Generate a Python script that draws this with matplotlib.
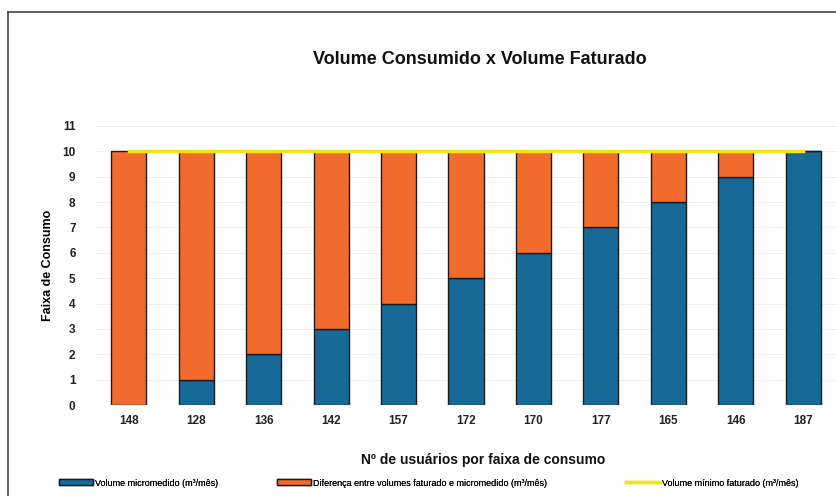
import matplotlib
matplotlib.use('Agg')
import matplotlib.pyplot as plt
import numpy as np

plt.rcParams['font.family'] = ['Liberation Sans', 'DejaVu Sans']

# data
usuarios = ['148', '128', '136', '142', '157', '172', '170', '177', '165', '146', '187']
micromedido = [0, 1, 2, 3, 4, 5, 6, 7, 8, 9, 10]
diferenca = [10, 9, 8, 7, 6, 5, 4, 3, 2, 1, 0]
minimo = [10, 10, 10, 10, 10, 10, 10, 10, 10, 10, 10]

blue = '#176a98'
orange = '#f36b2c'
yellow = '#f4e41c'

fig = plt.figure(figsize=(8.37, 4.96), dpi=100)
ax = fig.add_axes([95 / 837, 1 - 405 / 496, 742 / 837, (405 - 126) / 496])

x = np.arange(len(usuarios))
w = 0.52
b1 = ax.bar(x, micromedido, w, color=blue, edgecolor='#1a1a1a', linewidth=1.0,
            label='Volume micromedido (m³/mês)', zorder=2)
b2 = ax.bar(x, diferenca, w, bottom=micromedido, color=orange, edgecolor='#1a1a1a',
            linewidth=1.0, label='Diferença entre volumes faturado e micromedido (m³/mês)', zorder=2)
l1, = ax.plot(x, minimo, color=yellow, lw=2.5, label='Volume mínimo faturado (m³/mês)', zorder=3)

ax.set_xlim(-0.5, 10.5)
ax.set_ylim(0, 11)
ax.set_yticks(range(0, 12))
ax.set_xticks(x)
ax.set_xticklabels(usuarios)
ax.tick_params(axis='both', length=0, labelsize=8.5, colors='#222222')
ax.tick_params(axis='y', pad=14)
ax.tick_params(axis='x', pad=7)
for t in ax.get_xticklabels() + ax.get_yticklabels():
    t.set_fontweight('bold')
ax.yaxis.grid(True, color='#eeeeee', lw=0.6, zorder=0)
for s in ax.spines.values():
    s.set_visible(False)

ax.set_ylabel('Faixa de Consumo', fontsize=9, fontweight='bold', labelpad=6)
fig.text(480 / 837, 1 - 60 / 496, 'Volume Consumido x Volume Faturado', ha='center', va='center',
         fontsize=13, fontweight='bold', color='#111111')
fig.text(483 / 837, 1 - 460 / 496, 'Nº de usuários por faixa de consumo', ha='center', va='center',
         fontsize=10, fontweight='bold', color='#111111')

# legend entries placed separately, like the original
for h, xs in [(b1, 59), (b2, 277), (l1, 626)]:
    leg = fig.legend(handles=[h], loc='center left', bbox_to_anchor=(xs / 837, 1 - 483 / 496),
                     frameon=False, fontsize=6.5, handlelength=3.8, handleheight=0.6,
                     handletextpad=0.2, borderpad=0, borderaxespad=0)
    fig.add_artist(leg)

# frame around chart
fig.add_artist(plt.Line2D([8 / 837, 8 / 837], [0, 1 - 12 / 496], color='#444444', lw=1.2,
                          transform=fig.transFigure))
fig.add_artist(plt.Line2D([8 / 837, 1], [1 - 12 / 496, 1 - 12 / 496], color='#444444', lw=1.2,
                          transform=fig.transFigure))

plt.savefig('out.png', dpi=100)
plt.close()
